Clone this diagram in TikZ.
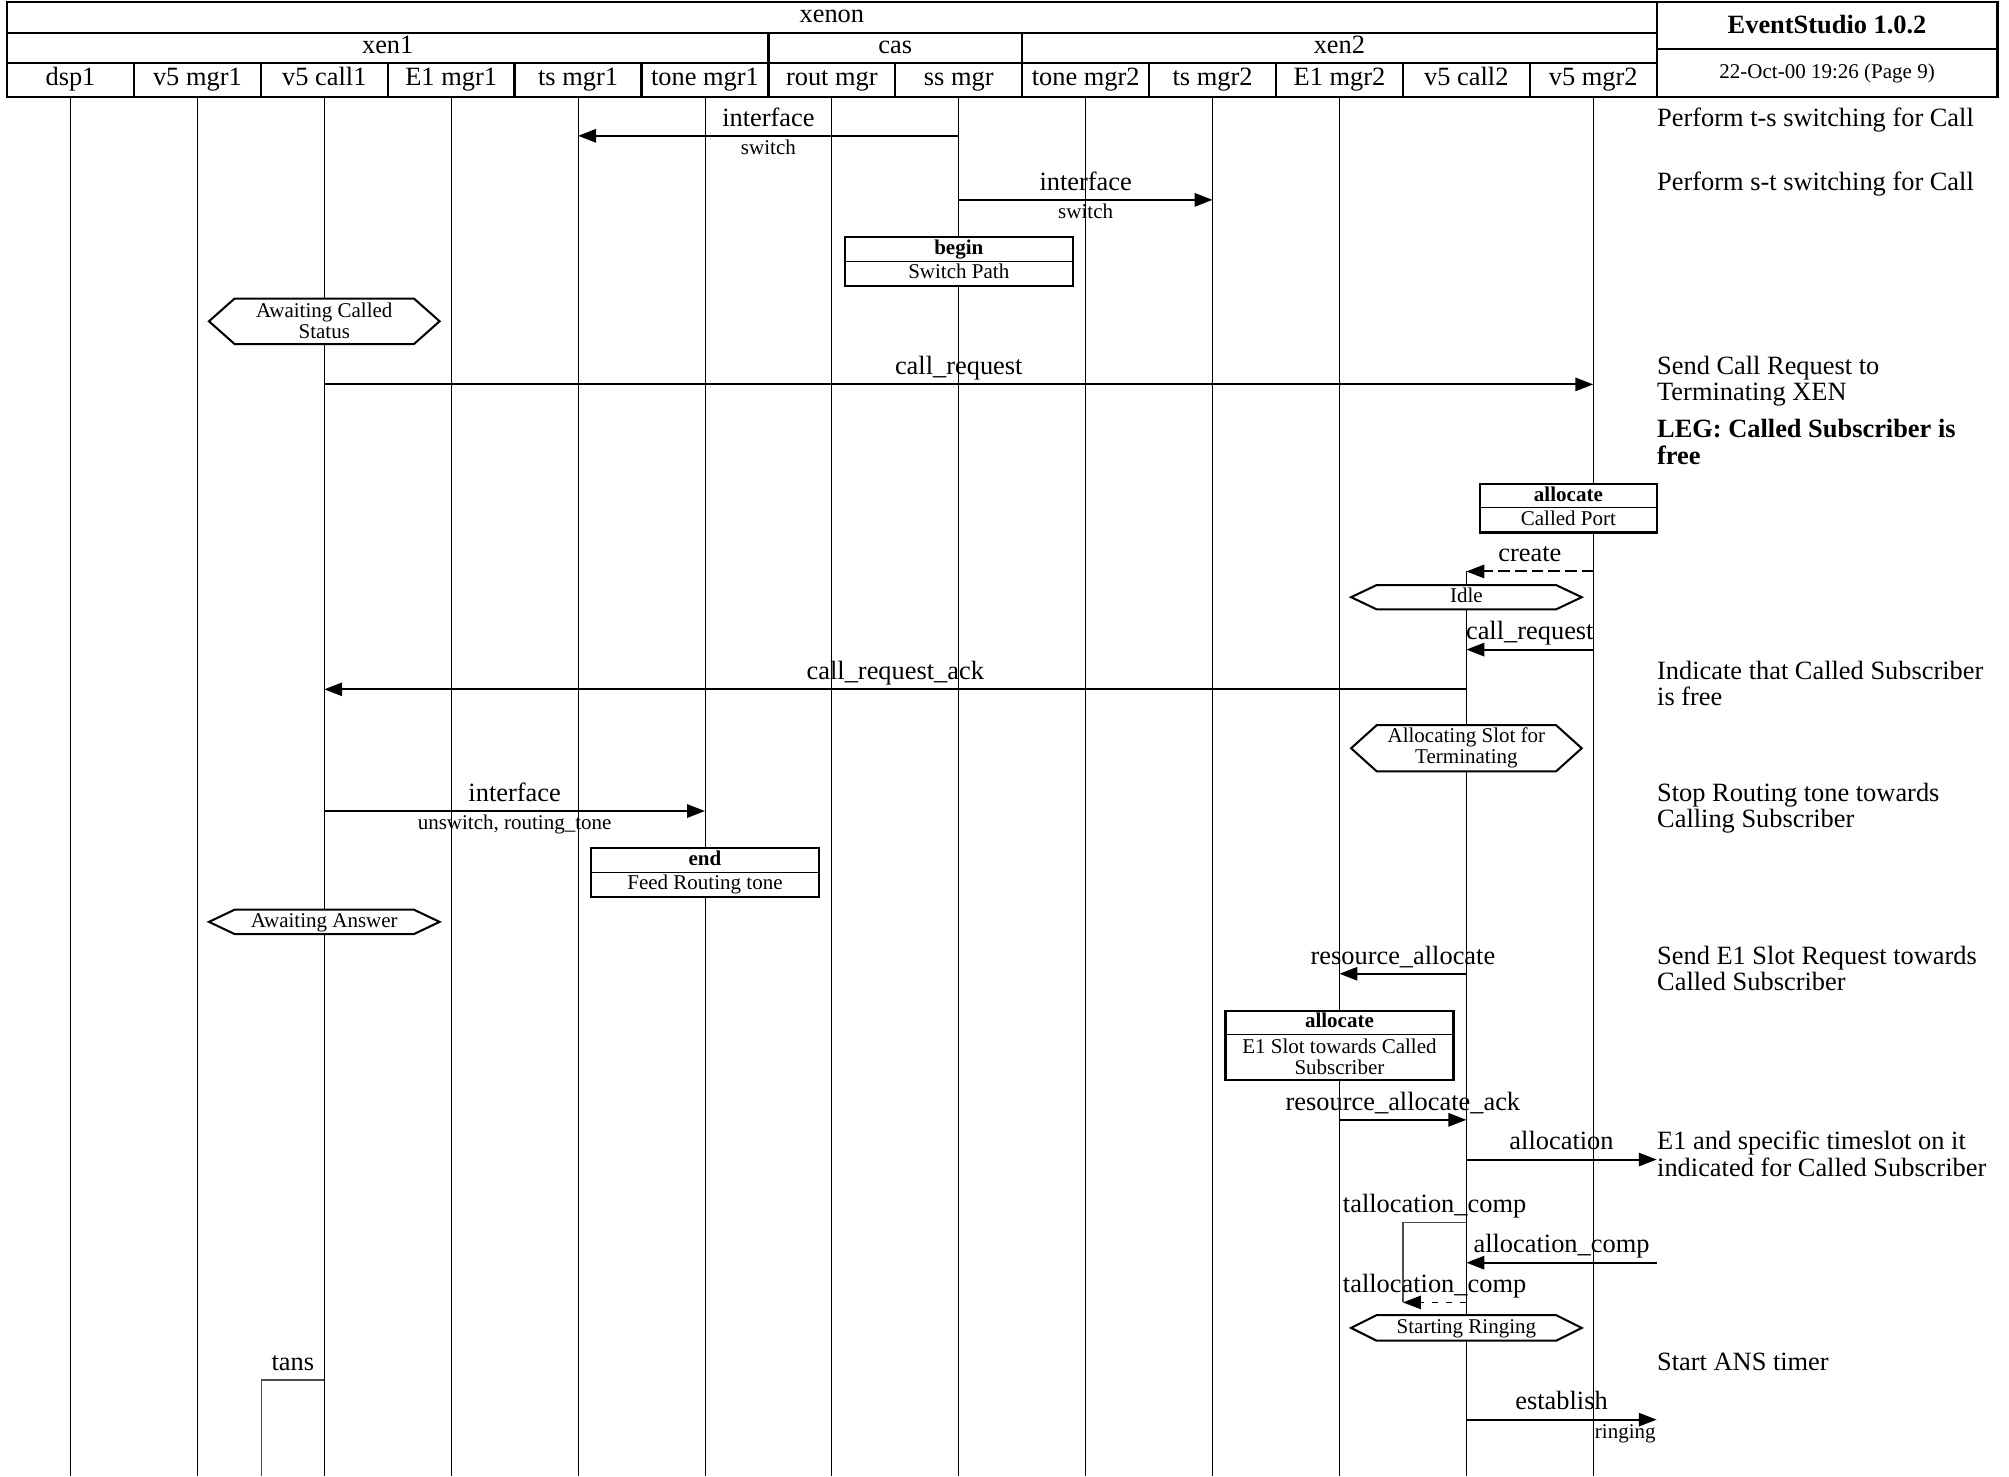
\documentclass[tikz,border=0pt]{standalone}
\usepackage{fontspec}
\setmainfont{Liberation Serif}
\usetikzlibrary{calc}
\usetikzlibrary{arrows.meta}

\tikzset{
  big/.style={font=\fontsize{10.3}{10.25}\selectfont},
  bigbf/.style={font=\fontsize{10.3}{10.5}\selectfont\bfseries},
  small/.style={font=\fontsize{8.2}{8.2}\selectfont},
  smallbf/.style={font=\fontsize{8.2}{8.2}\selectfont\bfseries},
  cell/.style={draw, line width=.9pt, inner sep=0pt, outer sep=0pt, text height=6.5pt, text depth=2.3pt, big},
  inst/.style={cell, minimum width=49.52pt, minimum height=13.25pt},
  life/.style={line width=.35pt},
  msg/.style={line width=.8pt, -{Triangle[length=7pt,width=5.2pt]}},
  lab/.style={big, anchor=base, yshift=3.8pt, inner sep=0pt},
  sub/.style={small, anchor=base, yshift=-7.3pt, inner sep=0pt},
  note/.style={big, anchor=base west, align=left, inner sep=0pt},
  txt/.style={small, inner sep=0pt, text height=5.6pt, text depth=1.6pt},
  txttwo/.style={small, inner sep=0pt, align=center},
  act/.style={draw, line width=.9pt, fill=white},
  hexa/.style={draw, line width=.8pt, fill=white},
  timer/.style={line width=.5pt, black!70},
}

\begin{document}
\begin{tikzpicture}[x=.5pt, y=-.5pt]
\useasboundingbox (0,0) rectangle (1568,1152);

% header
\node[cell, minimum width=643.75pt, minimum height=12.25pt] (xenon) at (649.25,13.55) {xenon};
\node[cell, minimum width=297.12pt, minimum height=11.7pt] (xen1) at (302.62,37.5) {xen1};
\node[cell, minimum width=99.04pt, minimum height=11.7pt] (cas) at (698.78,37.5) {cas};
\node[cell, minimum width=247.59pt, minimum height=11.7pt] (xen2) at (1045.41,37.5) {xen2};
\node[cell, bigbf, minimum width=133pt, minimum height=18.45pt, text height=7.5pt, text depth=1.3pt] (tool) at (1426,19.75) {EventStudio 1.0.2};
\node[cell, small, minimum width=133pt, minimum height=18.75pt] (date) at (1426,56.95) {22-Oct-00 19:26 (Page 9)};
\foreach \nm/\txt [count=\i from 0] in {dsp1/dsp1, v5mgr1/v5 mgr1, v5call1/v5 call1, E1mgr1/E1 mgr1, tsmgr1/ts mgr1, tonemgr1/tone mgr1, routmgr/rout mgr, ssmgr/ss mgr, tonemgr2/tone mgr2, tsmgr2/ts mgr2, E1mgr2/E1 mgr2, v5call2/v5 call2, v5mgr2/v5 mgr2}
  \node[inst] (\nm) at ({5.5+99.04*(\i+.5)},62.45) {\txt};

% lifelines
\foreach \nm in {dsp1,v5mgr1,v5call1,E1mgr1,tsmgr1,tonemgr1,routmgr,ssmgr,tonemgr2,tsmgr2,E1mgr2,v5mgr2}
  \draw[life] (\nm.south) -- (\nm.south |- 0,1152);
\draw[life] (v5call2 |- 0,446) -- (v5call2 |- 0,1152);

% states
\foreach \cx/\yt/\yb in {253.1/233/268.5, 1144.5/456.6/475.6, 1144.5/566/602, 253.1/710/729, 1144.5/1026.4/1046.4}
  \draw[hexa] (\cx-90,{(\yt+\yb)/2}) -- (\cx-70,\yt) -- (\cx+70,\yt) -- (\cx+90,{(\yt+\yb)/2}) -- (\cx+70,\yb) -- (\cx-70,\yb) -- cycle;
\node[txttwo] (st1) at (253.1,250.75) {Awaiting Called\\Status};
\node[txt] (st2) at (1144.5,466.1) {Idle};
\node[txttwo] (st3) at (1144.5,584) {Allocating Slot for\\Terminating};
\node[txt] (st4) at (253.1,719.5) {Awaiting Answer};
\node[txt] (st5) at (1144.5,1036.4) {Starting Ringing};

% actions
\draw[act] (659.3,185) rectangle (837.3,223);
\draw[line width=.5pt] (659.3,204) -- (837.3,204);
\node[txt, smallbf] (a1) at (748.3,194.5) {begin};
\node[txt] (a1b) at (748.3,213.5) {Switch Path};
\draw[act] (1155.2,378) rectangle (1293,415.5);
\draw[line width=.5pt] (1155.2,396.3) -- (1293,396.3);
\node[txt, smallbf] (a2) at (1224.1,387.1) {allocate};
\node[txt] (a2b) at (1224.1,405.9) {Called Port};
\draw[act] (461.2,662) rectangle (639.2,700);
\draw[line width=.5pt] (461.2,681) -- (639.2,681);
\node[txt, smallbf] (a3) at (550.2,671.5) {end};
\node[txt] (a3b) at (550.2,690.5) {Feed Routing tone};
\draw[act] (956.4,789) rectangle (1134.4,843);
\draw[line width=.5pt] (956.4,807.3) -- (1134.4,807.3);
\node[txt, smallbf] (a4) at (1045.4,798.2) {allocate};
\node[txttwo] (a4b) at (1045.4,825.1) {E1 Slot towards Called\\Subscriber};

% messages
\draw[msg] (ssmgr |- 0,106) -- node[lab] (m1) {interface} node[sub] (m1s) {switch} (tsmgr1 |- 0,106);
\draw[msg] (ssmgr |- 0,156) -- node[lab] (m2) {interface} node[sub] (m2s) {switch} (tsmgr2 |- 0,156);
\draw[msg] (v5call1 |- 0,300) -- node[lab] (m3) {call\_request} (v5mgr2 |- 0,300);
\draw[msg, dash pattern=on 4.5pt off 2pt] (v5mgr2 |- 0,446) -- node[lab] (m4) {create} (v5call2 |- 0,446);
\draw[msg] (v5mgr2 |- 0,507) -- node[lab] (m5) {call\_request} (v5call2 |- 0,507);
\draw[msg] (v5call2 |- 0,538) -- node[lab] (m6) {call\_request\_ack} (v5call1 |- 0,538);
\draw[msg] (v5call1 |- 0,633) -- node[lab] (m7) {interface} node[sub] (m7s) {unswitch, routing\_tone} (tonemgr1 |- 0,633);
\draw[msg] (v5call2 |- 0,760) -- node[lab] (m8) {resource\_allocate} (E1mgr2 |- 0,760);
\draw[msg] (E1mgr2 |- 0,874) -- node[lab] (m9) {resource\_allocate\_ack} (v5call2 |- 0,874);
\draw[msg] (v5call2 |- 0,905) -- node[lab] (m10) {allocation} (v5mgr2.east |- 0,905);
\draw[msg] (v5mgr2.east |- 0,985.5) -- node[lab] (m11) {allocation\_comp} (v5call2 |- 0,985.5);
\draw[msg] (v5call2 |- 0,1108) -- node[lab] (m12) {establish} node[sub, pos=1, anchor=base east] (m12s) {ringing} (v5mgr2.east |- 0,1108);

% timers
\coordinate (tk) at (1094.9,954.3);
\draw[timer] (v5call2 |- tk) -- node[lab, black] (t1) {tallocation\_comp} (tk) -- (tk |- 0,1016.5);
\draw[line width=.5pt, dash pattern=on 2.6pt off 2.9pt, -{Triangle[length=7pt,width=5.2pt]}] (v5call2 |- 0,1016.5) -- node[lab] (t2) {tallocation\_comp} (tk |- 0,1016.5);
\coordinate (ta) at (204,1077);
\draw[timer] (v5call1 |- ta) -- node[lab, black] (t3) {tans} (ta) -- (ta |- 0,1152);

% comments (base = last line)
\node[note] (c1) at (1293,98.4) {Perform t-s switching for Call};
\node[note] (c2) at (1293,148.4) {Perform s-t switching for Call};
\node[note] (c3) at (1293,312.9) {Send Call Request to\\Terminating XEN};
\node[note, bigbf] (c4) at (1293,362.5) {LEG: Called Subscriber is\\free};
\node[note] (c5) at (1293,550.9) {Indicate that Called Subscriber\\is free};
\node[note] (c6) at (1293,645.9) {Stop Routing tone towards\\Calling Subscriber};
\node[note] (c7) at (1293,772.9) {Send E1 Slot Request towards\\Called Subscriber};
\node[note] (c8) at (1293,917.9) {E1 and specific timeslot on it\\indicated for Called Subscriber};
\node[note] (c9) at (1293,1069.4) {Start ANS timer};
\end{tikzpicture}
\end{document}
